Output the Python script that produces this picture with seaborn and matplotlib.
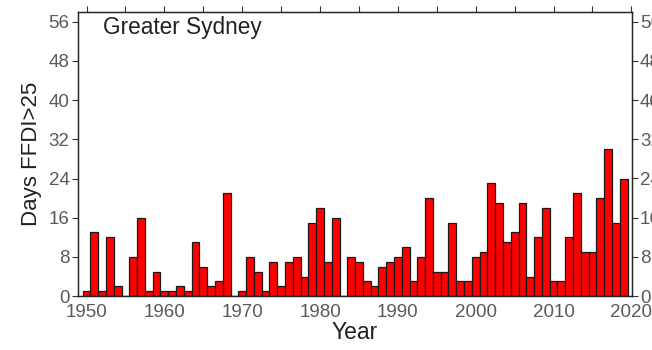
import numpy as np
import pandas as pd
import matplotlib
matplotlib.use("Agg")
import matplotlib.pyplot as plt
import seaborn as sns

# values
years = list(range(1950, 2020))
days = [1, 13, 1, 12, 2, 0, 8, 16, 1, 5,
        1, 1, 2, 1, 11, 6, 2, 3, 21, 0,
        1, 8, 5, 1, 7, 2, 7, 8, 4, 15,
        18, 7, 16, 0, 8, 7, 3, 2, 6, 7,
        8, 10, 3, 8, 20, 5, 5, 15, 3, 3,
        8, 9, 23, 19, 11, 13, 19, 4, 12, 18,
        3, 3, 12, 21, 9, 9, 20, 30, 15, 24]
yticks = list(range(0, 57, 8))
xticks = list(range(1950, 2021, 10))
xminor = list(range(1955, 2020, 10))

sns.set_style("white")
plt.rcParams["font.family"] = ["Liberation Sans", "DejaVu Sans"]

data = pd.DataFrame({"Year": years, "Days": days})

fig = plt.figure(figsize=(6.52, 3.5), dpi=100)
ax = fig.add_axes([0.1196, 0.154, 0.8494, 0.812])

sns.barplot(data=data, x="Year", y="Days", native_scale=True, width=1,
            color="#ff0000", edgecolor="#1a1a1a", linewidth=0.9,
            saturation=1, ax=ax)

ax.set_xlim(1948.9, 2020.05)
ax.set_ylim(0, 58)
ax.set_xticks(xticks)
ax.set_xticks(xminor, minor=True)
ax.set_yticks(yticks)
ax.tick_params(axis="both", which="both", direction="out", length=4, width=0.8,
               color="#333333", labelsize=13.5, labelcolor="#5a5a5a", pad=2)
ax.tick_params(axis="x", which="both", top=True)
for s in ax.spines.values():
    s.set_color("#222222")
    s.set_linewidth(1.0)

ax.set_xlabel("Year", fontsize=16.5, color="#222222", labelpad=0)
ax.set_ylabel("Days FFDI>25", fontsize=16, color="#222222", labelpad=5)

ax2 = ax.twinx()
ax2.set_ylim(0, 58)
ax2.set_yticks(yticks)
ax2.tick_params(axis="y", direction="out", length=4, width=0.8,
                color="#333333", labelsize=13.5, labelcolor="#5a5a5a", pad=2)
ax2.grid(False)

ax.text(0.045, 0.985, "Greater Sydney", transform=ax.transAxes,
        fontsize=16.3, color="#222222", ha="left", va="top")

fig.savefig("out.png", dpi=100)
